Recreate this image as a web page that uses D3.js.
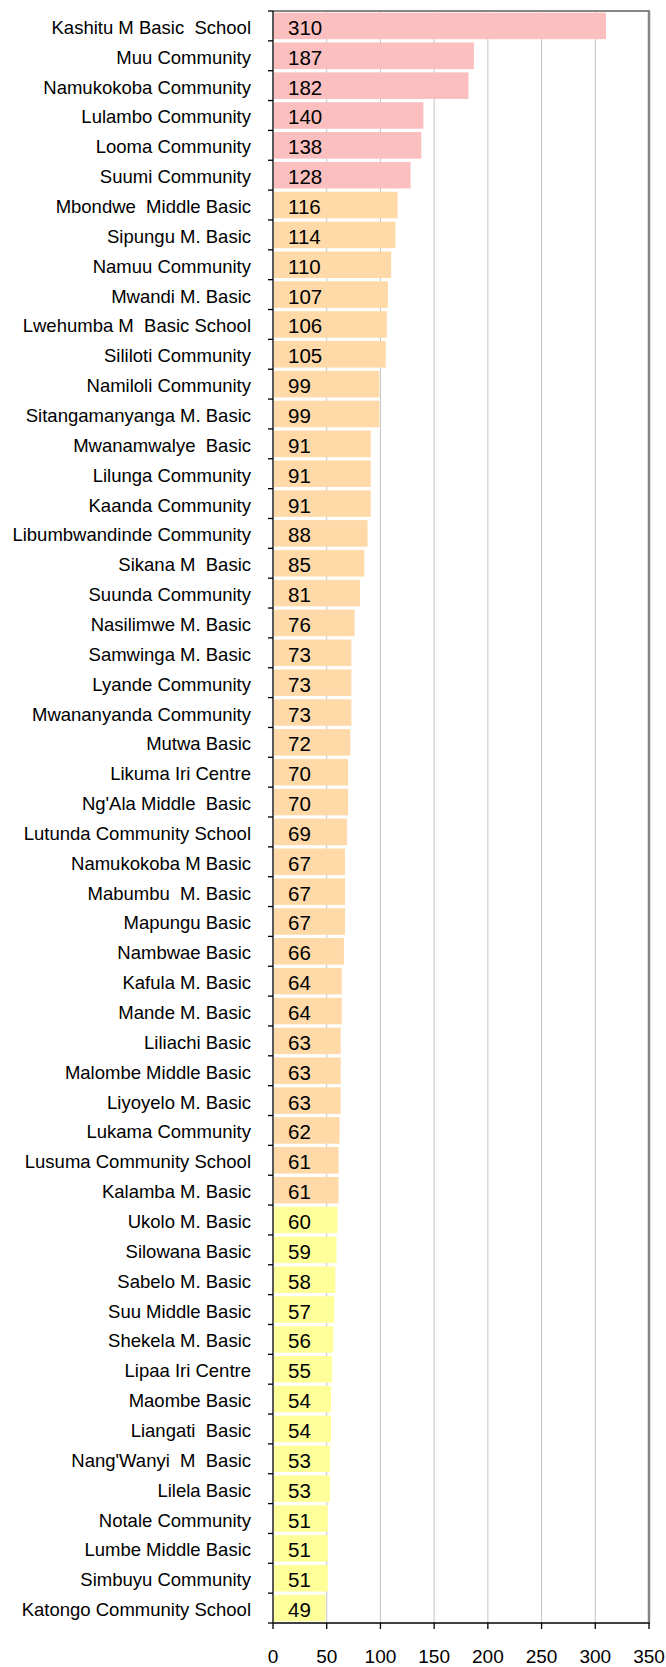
<html>
<head>
<style>
  body { margin: 0; background: #fff; }
  text { font-family: Arial, "Liberation Sans", sans-serif; white-space: pre; }
</style>
</head>
<body>
  <div id = 'chart'></div>
  <script src = 'https://cdn.jsdelivr.net/npm/d3@7/dist/d3.min.js'></script>
  <script>
  // schools, top to bottom
  var schools = [
    'Kashitu M Basic  School', 'Muu Community', 'Namukokoba Community', 'Lulambo Community',
    'Looma Community', 'Suumi Community', 'Mbondwe  Middle Basic', 'Sipungu M. Basic',
    'Namuu Community', 'Mwandi M. Basic', 'Lwehumba M  Basic School', 'Sililoti Community',
    'Namiloli Community', 'Sitangamanyanga M. Basic', 'Mwanamwalye  Basic', 'Lilunga Community',
    'Kaanda Community', 'Libumbwandinde Community', 'Sikana M  Basic', 'Suunda Community',
    'Nasilimwe M. Basic', 'Samwinga M. Basic', 'Lyande Community', 'Mwananyanda Community',
    'Mutwa Basic', 'Likuma Iri Centre', "Ng'Ala Middle  Basic", 'Lutunda Community School',
    'Namukokoba M Basic', 'Mabumbu  M. Basic', 'Mapungu Basic', 'Nambwae Basic',
    'Kafula M. Basic', 'Mande M. Basic', 'Liliachi Basic', 'Malombe Middle Basic',
    'Liyoyelo M. Basic', 'Lukama Community', 'Lusuma Community School', 'Kalamba M. Basic',
    'Ukolo M. Basic', 'Silowana Basic', 'Sabelo M. Basic', 'Suu Middle Basic',
    'Shekela M. Basic', 'Lipaa Iri Centre', 'Maombe Basic', 'Liangati  Basic',
    "Nang'Wanyi  M  Basic", 'Lilela Basic', 'Notale Community', 'Lumbe Middle Basic',
    'Simbuyu Community', 'Katongo Community School'
  ];
  var values = [
    310, 187, 182, 140, 138, 128, 116, 114, 110, 107, 106, 105, 99, 99, 91, 91, 91, 88,
    85, 81, 76, 73, 73, 73, 72, 70, 70, 69, 67, 67, 67, 66, 64, 64, 63, 63, 63, 62,
    61, 61, 60, 59, 58, 57, 56, 55, 54, 54, 53, 53, 51, 51, 51, 49
  ];
  var xTicks = [0, 50, 100, 150, 200, 250, 300, 350];
  var colourBreaks = [61, 120];
  var colours = ['#ffff99', '#ffd9a8', '#fbbfbf'];

  var svgWidth = 666,
      svgHeight = 1667,
      plotLeft = 273, plotRight = 649,
      plotTop = 11, plotBottom = 1623;

  var data = schools.map(function(s, i){ return {name: s, value: values[i]}; });

  var svg = d3.select('#chart').append('svg')
    .attr('width', svgWidth)
    .attr('height', svgHeight);

  var x = d3.scaleLinear().domain([0, 350]).range([plotLeft, plotRight]);
  var y = d3.scaleBand().domain(schools).range([plotTop, plotBottom])
    .paddingInner(0.11).paddingOuter(0.055);
  var fill = d3.scaleThreshold().domain(colourBreaks).range(colours);

  // gridlines
  svg.selectAll('line.grid')
    .data(xTicks.slice(1, -1))
    .enter().append('line')
    .attr('class', 'grid')
    .attr('x1', function(d){ return x(d); })
    .attr('x2', function(d){ return x(d); })
    .attr('y1', plotTop).attr('y2', plotBottom)
    .attr('stroke', '#c4c4c4').attr('stroke-width', 1);

  // bars
  svg.selectAll('rect.bar')
    .data(data)
    .enter().append('rect')
    .attr('class', 'bar')
    .attr('x', x(0) + 1)
    .attr('y', function(d){ return y(d.name); })
    .attr('width', function(d){ return x(d.value) - x(0) - 1; })
    .attr('height', y.bandwidth())
    .attr('fill', function(d){ return fill(d.value); });

  // value labels
  svg.selectAll('text.val')
    .data(data)
    .enter().append('text')
    .attr('class', 'val')
    .attr('x', x(0) + 15)
    .attr('y', function(d){ return y(d.name) + y.bandwidth() / 2 + 9; })
    .attr('font-size', '20.5px')
    .attr('fill', '#000')
    .text(function(d){ return d.value; });

  // frame: top and right border
  svg.append('line')
    .attr('x1', plotLeft).attr('x2', plotRight + 1)
    .attr('y1', plotTop).attr('y2', plotTop)
    .attr('stroke', '#858585').attr('stroke-width', 2);
  svg.append('line')
    .attr('x1', plotRight).attr('x2', plotRight)
    .attr('y1', plotTop).attr('y2', plotBottom)
    .attr('stroke', '#858585').attr('stroke-width', 2.5);

  // y axis
  var yAxis = svg.append('g');
  yAxis.append('line')
    .attr('x1', plotLeft).attr('x2', plotLeft)
    .attr('y1', plotTop).attr('y2', plotBottom)
    .attr('stroke', '#000').attr('stroke-width', 1.3);
  var step = (plotBottom - plotTop) / schools.length;
  yAxis.selectAll('line.tick')
    .data(d3.range(schools.length + 1))
    .enter().append('line')
    .attr('class', 'tick')
    .attr('x1', plotLeft - 5).attr('x2', plotLeft)
    .attr('y1', function(i){ return plotTop + i * step; })
    .attr('y2', function(i){ return plotTop + i * step; })
    .attr('stroke', '#000').attr('stroke-width', 1.3);
  yAxis.selectAll('text')
    .data(schools)
    .enter().append('text')
    .attr('x', 251)
    .attr('y', function(d){ return y(d) + y.bandwidth() / 2 + 8; })
    .attr('text-anchor', 'end')
    .attr('font-size', '18.5px')
    .attr('fill', '#000')
    .text(function(d){ return d; });

  // x axis
  var xAxis = svg.append('g');
  xAxis.append('line')
    .attr('x1', plotLeft).attr('x2', plotRight + 1)
    .attr('y1', plotBottom).attr('y2', plotBottom)
    .attr('stroke', '#404040').attr('stroke-width', 2);
  xAxis.selectAll('line.tick')
    .data(xTicks)
    .enter().append('line')
    .attr('class', 'tick')
    .attr('x1', function(d){ return x(d); })
    .attr('x2', function(d){ return x(d); })
    .attr('y1', plotBottom).attr('y2', plotBottom + 6)
    .attr('stroke', '#000').attr('stroke-width', 1.3);
  xAxis.selectAll('text')
    .data(xTicks)
    .enter().append('text')
    .attr('x', function(d){ return x(d); })
    .attr('y', 1663)
    .attr('text-anchor', 'middle')
    .attr('font-size', '19px')
    .attr('fill', '#000')
    .text(function(d){ return d; });
  </script>
</body>
</html>
